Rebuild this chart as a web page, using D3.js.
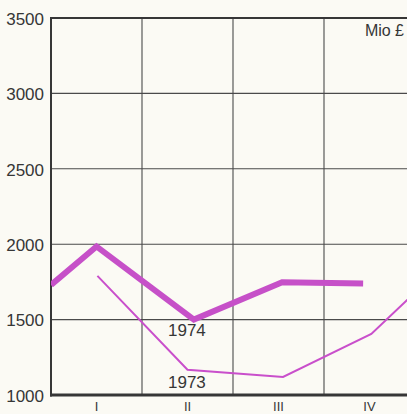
<!DOCTYPE html>
<html><head><meta charset="utf-8">
<script src="https://cdn.jsdelivr.net/npm/d3@7"></script>
<style>html,body{margin:0;padding:0;background:#fbfaf4;overflow:hidden}</style>
</head><body>
<script>
const yTicks = [1000, 1500, 2000, 2500, 3000, 3500];
const quarterLabels = ["I", "II", "III", "IV"];
const quarters = [1, 2, 3, 4];
const x1974 = [0.5, 1, 2.07, 3.04, 3.93];
const v1974 = [1730, 1985, 1500, 1748, 1740];
const x1973 = [1.01, 2.0, 3.05, 4.02, 4.5];
const v1973 = [1790, 1168, 1120, 1405, 1680];
const unitLabel = "Mio £";

(function () {
const W = 407, H = 414;
const svg = d3.select("body").append("svg").attr("width", W).attr("height", H)
  .style("display","block").style("background","#fbfaf4");
const pL = 51, pR = 415, pT = 18, pB = 395;
const x = d3.scaleLinear().domain([0.5, 4.5]).range([pL, pR]);
const y = d3.scaleLinear().domain([1000, 3500]).range([pB, pT]);
const ink = "#363636";
const font = "'Liberation Sans', Arial, sans-serif";

svg.append("defs").append("clipPath").attr("id","plot")
  .append("rect").attr("x", pL).attr("y", pT).attr("width", pR-pL).attr("height", pB-pT);

svg.append("g").selectAll("line").data(yTicks.filter(d => d > 1000 && d < 3500)).join("line")
  .attr("x1", pL).attr("x2", pR).attr("y1", d => y(d)).attr("y2", d => y(d))
  .attr("stroke", "#4a4a4a").attr("stroke-width", 1.1);
svg.append("g").selectAll("line").data([1.5, 2.5, 3.5]).join("line")
  .attr("x1", d => x(d)).attr("x2", d => x(d)).attr("y1", pT).attr("y2", pB)
  .attr("stroke", "#4a4a4a").attr("stroke-width", 1.1);

svg.append("line").attr("x1", pL).attr("x2", pR).attr("y1", y(3500)).attr("y2", y(3500))
  .attr("stroke", ink).attr("stroke-width", 2);
svg.append("line").attr("x1", pL).attr("x2", pL).attr("y1", pT - 1).attr("y2", pB + 1.5)
  .attr("stroke", ink).attr("stroke-width", 2);
svg.append("line").attr("x1", pL - 1).attr("x2", pR).attr("y1", y(1000)).attr("y2", y(1000))
  .attr("stroke", ink).attr("stroke-width", 3);

svg.append("g").selectAll("text").data(yTicks).join("text")
  .attr("x", 44).attr("y", d => y(d)).attr("dy", "0.4em")
  .attr("text-anchor", "end").attr("font-family", font).attr("font-size", 17)
  .attr("fill", ink).text(d => d);

svg.append("g").selectAll("text").data(quarters).join("text")
  .attr("x", d => x(d)).attr("y", 410.5)
  .attr("text-anchor", "middle").attr("font-family", font).attr("font-size", 13)
  .attr("fill", ink).text((d, i) => quarterLabels[i]);

svg.append("text").attr("x", 404).attr("y", 36).attr("text-anchor", "end")
  .attr("font-family", font).attr("font-size", 16).attr("fill", ink).text(unitLabel);

const line = d3.line().x(d => x(d[0])).y(d => y(d[1]));
const g = svg.append("g").attr("clip-path", "url(#plot)");
g.append("path").datum(x1973.map((d, i) => [d, v1973[i]])).attr("d", line)
  .attr("fill", "none").attr("stroke", "#c94fcb").attr("stroke-width", 2)
  .attr("stroke-linejoin", "miter");
g.append("path").datum(x1974.map((d, i) => [d, v1974[i]])).attr("d", line)
  .attr("fill", "none").attr("stroke", "#c650c8").attr("stroke-width", 6)
  .attr("stroke-linejoin", "miter").attr("stroke-linecap", "butt");

svg.append("text").attr("x", 168).attr("y", 336).attr("font-family", font)
  .attr("font-size", 17).attr("fill", ink).text("1974");
svg.append("text").attr("x", 168).attr("y", 388).attr("font-family", font)
  .attr("font-size", 17).attr("fill", ink).text("1973");
})();
</script>
</body></html>
